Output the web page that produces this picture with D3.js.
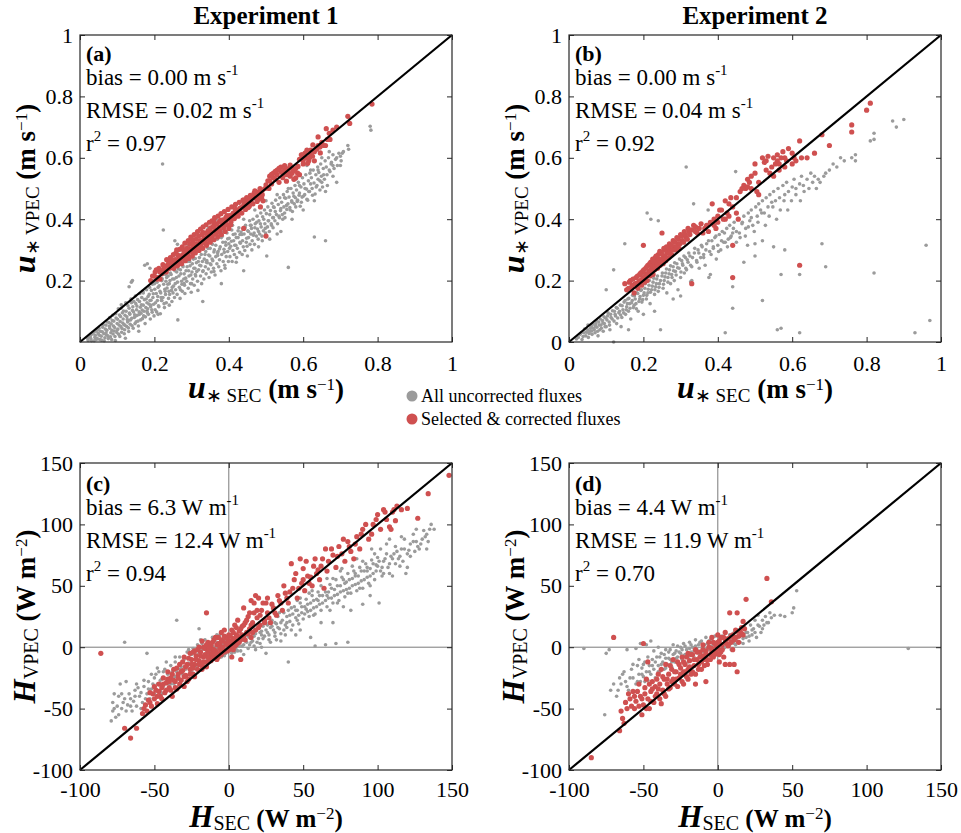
<!DOCTYPE html>
<html><head><meta charset="utf-8">
<script src="https://cdn.jsdelivr.net/npm/d3@7"></script>
<style>body{margin:0;background:#fff}</style>
</head><body>
<svg id="c" width="961" height="833"></svg>
<script>
// ---------------- DATA ----------------
const titles = ["Experiment 1", "Experiment 2"];
const panelLabels = ["(a)", "(b)", "(c)", "(d)"];
const statBias = ["0.00", "0.00", "6.3", "4.4"];
const statRmse = ["0.02", "0.04", "12.4", "11.9"];
const statR2 = ["0.97", "0.92", "0.94", "0.70"];
const legendLabels = ["All uncorrected fluxes", "Selected & corrected fluxes"];
const uTicksX = [0, .2, .4, .6, .8, 1];
const uTicksYa = [.2, .4, .6, .8, 1];
const uTicksYb = [0, .2, .4, .6, .8, 1];
const hTicks = [-100, -50, 0, 50, 100, 150];

const aGray = [[.02,.012],[.028,.02],[.031,.004],[.036,.031],[.04,.015],[.044,.008],[.047,.04],[.052,.022],[.055,.035],[.058,.006],[.061,.048],[.064,.027],[.067,.014],[.07,.055],[.072,.038],[.075,.02],[.078,.063],[.08,.045],[.083,.03],[.085,.008],[.087,.07],[.09,.052],[.092,.036],[.094,.018],[.097,.078],[.1,.06],[.102,.042],[.104,.025],[.106,.088],[.108,.067],[.11,.05],[.112,.032],[.114,.095],[.116,.075],[.118,.057],[.12,.04],[.122,.012],[.124,.1],[.126,.082],[.128,.065],[.13,.046],[.132,.11],[.134,.09],[.136,.072],[.138,.128],[.14,.053],[.142,.115],[.144,.098],[.146,.08],[.148,.06],[.15,.125],[.152,.105],[.154,.087],[.156,.068],[.158,.035],[.16,.132],[.162,.113],[.164,.094],[.166,.145],[.168,.076],[.17,.12],[.172,.1],[.174,.25],[.176,.082],[.178,.14],[.18,.128],[.182,.108],[.184,.09],[.186,.155],[.188,.135],[.19,.115],[.192,.168],[.194,.097],[.196,.145],[.198,.123],[.2,.19],[.202,.105],[.205,.158],[.208,.135],[.21,.178],[.212,.115],[.215,.165],[.218,.145],[.22,.2],[.222,.58],[.224,.365],[.226,.125],[.228,.172],[.23,.155],[.233,.21],[.236,.188],[.239,.165],[.242,.2],[.245,.22],[.248,.178],[.25,.24],[.253,.205],[.256,.19],[.26,.228],[.263,.072],[.266,.215],[.27,.235],[.273,.198],[.276,.25],[.28,.222],[.284,.208],[.288,.245],[.292,.232],[.295,.262],[.298,.218],[.302,.255],[.306,.24],[.31,.272],[.314,.23],[.318,.262],[.322,.25],[.326,.285],[.33,.132],[.334,.27],[.338,.295],[.342,.258],[.346,.283],[.35,.305],[.355,.27],[.36,.293],[.365,.315],[.37,.282],[.375,.303],[.38,.19],[.384,.325],[.388,.292],[.392,.315],[.397,.336],[.402,.305],[.407,.328],[.412,.35],[.416,.315],[.42,.34],[.425,.362],[.43,.325],[.435,.35],[.44,.232],[.444,.373],[.448,.338],[.453,.36],[.458,.38],[.462,.3],[.466,.348],[.47,.372],[.475,.39],[.48,.36],[.485,.385],[.49,.33],[.494,.4],[.498,.37],[.502,.28],[.506,.395],[.51,.415],[.515,.38],[.52,.405],[.525,.425],[.53,.352],[.535,.41],[.54,.435],[.545,.4],[.55,.42],[.555,.445],[.56,.243],[.565,.43],[.57,.455],[.575,.475],[.58,.44],[.585,.462],[.59,.485],[.595,.455],[.6,.475],[.605,.5],[.61,.465],[.615,.49],[.62,.515],[.625,.478],[.63,.342],[.635,.505],[.64,.53],[.645,.495],[.65,.52],[.655,.545],[.66,.33],[.665,.51],[.67,.56],[.675,.58],[.68,.54],[.69,.6],[.7,.575],[.705,.615],[.72,.64],[.722,.628],[.78,.703],[.782,.69]];
const aGray2 = [[.022,.005],[.025,.018],[.029,.011],[.033,.026],[.038,.004],[.041,.022],[.043,.035],[.046,.012],[.049,.028],[.051,.045],[.053,.008],[.057,.019],[.06,.033],[.063,.056],[.065,.004],[.068,.042],[.071,.023],[.073,.066],[.076,.011],[.079,.051],[.081,.078],[.082,.017],[.084,.059],[.086,.038],[.088,.087],[.089,.026],[.091,.068],[.093,.047],[.095,.005],[.096,.092],[.099,.031],[.101,.074],[.103,.108],[.105,.055],[.107,.018],[.109,.083],[.111,.121],[.113,.044],[.115,.062],[.117,.101],[.119,.027],[.121,.087],[.123,.128],[.125,.051],[.127,.073],[.129,.118],[.131,.034],[.133,.094],[.135,.058],[.137,.14],[.139,.077],[.141,.103],[.143,.045],[.145,.132],[.147,.089],[.149,.15],[.151,.066],[.153,.117],[.155,.138],[.157,.052],[.159,.098],[.161,.158],[.163,.072],[.165,.121],[.167,.104],[.169,.165],[.171,.085],[.173,.138],[.175,.06],[.177,.112],[.179,.17],[.181,.095],[.183,.148],[.185,.124],[.187,.178],[.189,.075],[.191,.136],[.193,.105],[.195,.188],[.197,.157],[.199,.085],[.201,.172],[.203,.128],[.206,.098],[.207,.195],[.209,.148],[.211,.118],[.213,.183],[.216,.092],[.217,.16],[.219,.135],[.221,.206],[.223,.145],[.225,.188],[.227,.112],[.229,.165],[.231,.198],[.232,.128],[.234,.176],[.237,.215],[.238,.142],[.24,.19],[.241,.155],[.243,.225],[.246,.168],[.247,.132],[.249,.205],[.251,.182],[.254,.145],[.255,.232],[.257,.17],[.259,.21],[.261,.155],[.262,.195],[.264,.238],[.267,.178],[.269,.142],[.271,.222],[.274,.188],[.275,.165],[.277,.245],[.279,.205],[.281,.185],[.282,.158],[.285,.232],[.287,.198],[.289,.262],[.291,.175],[.293,.215],[.296,.248],[.297,.19],[.299,.162],[.301,.228],[.303,.205],[.305,.27],[.307,.185],[.309,.24],[.311,.215],[.313,.258],[.316,.198],[.317,.168],[.319,.235],[.321,.275],[.324,.215],[.325,.248],[.327,.19],[.329,.262],[.331,.232],[.333,.205],[.336,.285],[.337,.245],[.339,.222],[.341,.265],[.344,.305],[.345,.238],[.347,.21],[.349,.28],[.352,.252],[.353,.228],[.356,.318],[.357,.265],[.359,.24],[.361,.3],[.363,.218],[.365,.278],[.368,.255],[.369,.335],[.371,.295],[.373,.245],[.375,.268],[.377,.31],[.379,.232],[.381,.285],[.383,.345],[.385,.262],[.387,.302],[.389,.25],[.391,.325],[.393,.278],[.395,.355],[.397,.295],[.399,.262],[.401,.338],[.403,.278],[.405,.312],[.408,.365],[.409,.262],[.411,.298],[.413,.33],[.415,.285],[.417,.352],[.419,.315],[.421,.275],[.423,.305],[.425,.34],[.427,.372],[.429,.292],[.431,.322],[.433,.358],[.436,.285],[.437,.33],[.439,.31],[.441,.352],[.443,.298],[.445,.38],[.447,.325],[.449,.312],[.451,.362],[.453,.34],[.456,.395],[.457,.318],[.459,.352],[.461,.37],[.463,.33],[.465,.4],[.468,.355],[.469,.318],[.471,.385],[.474,.345],[.476,.41],[.477,.368],[.479,.335],[.481,.395],[.483,.352],[.486,.42],[.487,.375],[.489,.345],[.491,.408],[.493,.362],[.496,.43],[.497,.385],[.499,.355],[.501,.418],[.504,.375],[.505,.44],[.507,.395],[.509,.36],[.512,.428],[.514,.385],[.516,.452],[.518,.405],[.519,.372],[.522,.438],[.524,.395],[.526,.462],[.528,.415],[.531,.385],[.533,.448],[.536,.405],[.537,.47],[.539,.428],[.542,.455],[.544,.415],[.547,.48],[.548,.44],[.551,.405],[.553,.468],[.556,.432],[.557,.49],[.559,.45],[.562,.472],[.564,.438],[.567,.5],[.569,.46],[.571,.425],[.573,.485],[.576,.45],[.578,.51],[.579,.47],[.582,.495],[.584,.458],[.587,.52],[.589,.478],[.592,.442],[.594,.505],[.597,.472],[.598,.535],[.602,.515],[.604,.48],[.607,.545],[.609,.498],[.612,.462],[.614,.525],[.617,.49],[.618,.55],[.622,.535],[.624,.5],[.627,.56],[.629,.518],[.632,.482],[.634,.545],[.637,.51],[.639,.57],[.642,.552],[.645,.525],[.647,.58],[.649,.54],[.652,.505],[.654,.565],[.657,.53],[.659,.59],[.662,.57],[.664,.545],[.668,.6],[.672,.555],[.676,.585],[.68,.61],[.683,.565],[.687,.595],[.692,.575],[.696,.615],[.702,.59],[.708,.62],[.132,.18],[.138,.195],[.141,.2],[.181,.255],[.188,.24],[.255,.33],[.262,.318],[.285,.32],[.29,.31],[.31,.35],[.33,.36],[.345,.37],[.366,.4]];
const aGray3 = [[.36,.23],[.39,.24],[.42,.26],[.45,.28],[.48,.31],[.51,.335],[.54,.36],[.57,.4],[.6,.43],[.63,.46],[.66,.49],[.69,.52],[.41,.38],[.47,.43],[.53,.48],[.58,.53],[.62,.56],[.35,.255],[.38,.34],[.44,.4],[.5,.46],[.56,.5],[.61,.575],[.65,.6],[.67,.62],[.7,.605],[.68,.575],[.64,.56],[.59,.51],[.55,.47],[.52,.44],[.46,.38],[.43,.35],[.4,.32],[.37,.29],[.34,.26],[.31,.22],[.28,.19],[.25,.16],[.22,.135],[.19,.12],[.16,.09],[.13,.07],[.1,.04],[.07,.03],[.3,.19],[.33,.23],[.27,.17],[.24,.12],[.21,.09],[.18,.1],[.15,.085],[.12,.055],[.29,.28],[.32,.3],[.35,.33],[.38,.36],[.26,.25],[.23,.22],[.2,.2],[.17,.16],[.14,.13],[.11,.11],[.08,.08]];

const aRed = [[.19,.2],[.2,.215],[.21,.21],[.215,.228],[.22,.222],[.225,.238],[.23,.232],[.235,.25],[.24,.24],[.245,.258],[.25,.252],[.252,.24],[.256,.268],[.26,.26],[.262,.248],[.266,.275],[.27,.268],[.273,.255],[.276,.284],[.28,.276],[.283,.265],[.286,.293],[.29,.285],[.293,.272],[.296,.302],[.3,.295],[.302,.28],[.305,.312],[.308,.302],[.31,.29],[.314,.32],[.317,.31],[.32,.298],[.323,.33],[.326,.318],[.33,.305],[.333,.338],[.336,.327],[.34,.315],[.343,.348],[.346,.336],[.35,.325],[.353,.358],[.356,.345],[.36,.333],[.363,.366],[.366,.353],[.37,.342],[.373,.375],[.376,.362],[.38,.35],[.383,.385],[.386,.372],[.39,.36],[.393,.395],[.396,.382],[.4,.37],[.403,.405],[.406,.392],[.41,.415],[.415,.402],[.42,.425],[.425,.41],[.43,.435],[.435,.42],[.44,.445],[.44,.37],[.445,.432],[.45,.455],[.455,.442],[.46,.465],[.465,.45],[.47,.475],[.48,.465],[.485,.44],[.49,.48],[.5,.345],[.505,.525],[.51,.54],[.515,.515],[.52,.55],[.525,.53],[.53,.545],[.535,.52],[.54,.555],[.545,.535],[.55,.56],[.555,.545],[.56,.565],[.565,.54],[.57,.55],[.575,.53],[.58,.535],[.59,.595],[.595,.61],[.6,.58],[.605,.615],[.61,.6],[.615,.59],[.62,.625],[.625,.605],[.63,.59],[.64,.668],[.645,.635],[.65,.65],[.66,.64],[.662,.695],[.67,.68],[.68,.69],[.69,.7],[.72,.735],[.725,.712],[.785,.775]];
const aRed2 = [[.195,.215],[.202,.228],[.207,.205],[.212,.24],[.218,.232],[.223,.252],[.228,.245],[.233,.268],[.238,.255],[.243,.275],[.248,.268],[.251,.285],[.255,.255],[.258,.29],[.263,.283],[.268,.302],[.271,.28],[.275,.31],[.279,.298],[.282,.322],[.287,.305],[.291,.33],[.295,.318],[.298,.342],[.303,.325],[.307,.35],[.312,.335],[.316,.36],[.319,.345],[.324,.368],[.328,.35],[.331,.375],[.335,.355],[.339,.382],[.344,.362],[.348,.39],[.351,.372],[.355,.395],[.359,.378],[.362,.405],[.367,.385],[.371,.41],[.375,.392],[.379,.418],[.384,.398],[.388,.425],[.392,.405],[.398,.432],[.402,.412],[.408,.44],[.412,.42],[.418,.448],[.423,.43],[.428,.455],[.433,.438],[.438,.462],[.443,.452],[.448,.47],[.453,.46],[.458,.478],[.463,.47],[.468,.485],[.473,.468],[.478,.48],[.482,.49],[.488,.47],[.492,.46],[.497,.5],[.51,.525],[.52,.535],[.53,.56],[.54,.57],[.55,.575],[.56,.55],[.57,.565],[.58,.565],[.585,.55],[.59,.545],[.6,.6],[.61,.625],[.62,.61],[.63,.62],[.64,.64],[.655,.64],[.665,.66]];
const aRed3 = [[.205,.235],[.215,.205],[.232,.228],[.247,.242],[.26,.3],[.27,.256],[.285,.275],[.3,.336],[.305,.294],[.32,.308],[.33,.356],[.338,.322],[.352,.338],[.36,.392],[.372,.358],[.387,.378],[.395,.412],[.405,.382],[.418,.432],[.43,.424],[.44,.462],[.452,.438],[.462,.452],[.47,.492],[.476,.458],[.49,.494],[.5,.512],[.508,.5],[.515,.546],[.525,.556],[.535,.566],[.545,.548],[.555,.524],[.565,.576],[.575,.558],[.586,.572],[.6,.592],[.612,.582],[.626,.642],[.636,.628],[.646,.616],[.672,.66],[.242,.262],[.289,.296],[.341,.352],[.378,.396],[.422,.415],[.457,.47],[.484,.5],[.598,.61],[.617,.6]];

const bGray = [[.02,.01],[.03,.025],[.035,.008],[.04,.03],[.045,.02],[.05,.04],[.052,.015],[.056,.035],[.06,.05],[.062,.025],[.066,.045],[.07,.03],[.072,.06],[.075,.048],[.078,.02],[.08,.065],[.083,.04],[.086,.055],[.09,.07],[.092,.035],[.095,.06],[.098,.078],[.1,.05],[.1,.17],[.104,.085],[.108,.065],[.11,.04],[.112,.09],[.116,.075],[.12,.0],[.12,.235],[.122,.1],[.125,.085],[.128,.06],[.13,.11],[.134,.095],[.138,.12],[.14,.05],[.142,.08],[.145,.105],[.148,.13],[.15,.32],[.152,.09],[.155,.115],[.158,.14],[.16,.1],[.163,.125],[.166,.075],[.17,.135],[.173,.112],[.176,.15],[.18,.125],[.183,.16],[.186,.1],[.19,.14],[.193,.168],[.196,.13],[.2,.152],[.2,.22],[.204,.175],[.208,.14],[.21,.42],[.212,.16],[.215,.185],[.218,.125],[.22,.4],[.222,.17],[.226,.195],[.23,.155],[.233,.18],[.236,.205],[.24,.395],[.24,.165],[.243,.19],[.246,.04],[.25,.215],[.253,.175],[.256,.2],[.26,.225],[.263,.16],[.266,.21],[.27,.235],[.273,.19],[.276,.22],[.28,.245],[.283,.2],[.286,.23],[.29,.255],[.293,.17],[.296,.24],[.3,.21],[.303,.265],[.306,.25],[.31,.225],[.313,.275],[.315,.57],[.316,.235],[.32,.26],[.325,.28],[.33,.2],[.33,.245],[.335,.45],[.337,.29],[.34,.37],[.343,.265],[.347,.3],[.35,.24],[.354,.275],[.358,.31],[.362,.285],[.366,.25],[.37,.32],[.374,.43],[.378,.295],[.38,.22],[.384,.33],[.388,.305],[.392,.34],[.396,.27],[.4,.315],[.404,.35],[.408,.3],[.412,.36],[.416,.325],[.42,.325],[.42,.03],[.424,.37],[.428,.335],[.432,.38],[.436,.345],[.44,.11],[.44,.355],[.444,.39],[.448,.555],[.45,.36],[.455,.4],[.46,.34],[.465,.385],[.47,.41],[.475,.37],[.48,.315],[.482,.42],[.486,.395],[.49,.43],[.494,.38],[.5,.32],[.502,.44],[.506,.41],[.51,.45],[.515,.43],[.52,.135],[.52,.46],[.525,.42],[.53,.47],[.535,.44],[.54,.48],[.545,.455],[.55,.31],[.55,.49],[.555,.46],[.56,.04],[.562,.5],[.566,.47],[.57,.045],[.57,.22],[.575,.51],[.58,.48],[.585,.52],[.59,.49],[.6,.505],[.605,.53],[.61,.5],[.62,.22],[.62,.03],[.62,.515],[.625,.54],[.63,.51],[.64,.53],[.65,.55],[.66,.54],[.67,.53],[.68,.32],[.69,.245],[.69,.55],[.7,.56],[.71,.58],[.72,.57],[.73,.6],[.74,.59],[.76,.6],[.77,.59],[.77,.61],[.81,.655],[.82,.66],[.82,.68],[.82,.225],[.87,.72],[.88,.7],[.9,.725],[.93,.03],[.96,.315],[.97,.07]];
const bGray2 = [[.025,.015],[.033,.03],[.038,.018],[.042,.042],[.047,.032],[.051,.055],[.054,.028],[.058,.045],[.061,.036],[.064,.058],[.068,.04],[.071,.052],[.074,.07],[.077,.035],[.081,.055],[.084,.075],[.087,.045],[.091,.062],[.094,.082],[.097,.05],[.102,.072],[.105,.095],[.109,.055],[.113,.08],[.117,.102],[.121,.068],[.124,.09],[.127,.112],[.131,.078],[.136,.1],[.139,.088],[.143,.118],[.147,.095],[.151,.135],[.154,.105],[.157,.125],[.161,.142],[.164,.11],[.168,.128],[.171,.152],[.175,.12],[.178,.14],[.181,.108],[.185,.158],[.188,.132],[.191,.148],[.195,.17],[.198,.138],[.202,.16],[.205,.19],[.209,.152],[.213,.172],[.216,.2],[.219,.162],[.224,.182],[.228,.208],[.231,.17],[.235,.19],[.238,.215],[.242,.178],[.246,.2],[.251,.225],[.254,.188],[.258,.212],[.262,.238],[.266,.195],[.269,.222],[.273,.248],[.277,.21],[.281,.232],[.284,.258],[.288,.218],[.292,.242],[.297,.27],[.301,.228],[.305,.255],[.309,.28],[.314,.24],[.318,.268],[.322,.29],[.327,.25],[.332,.275],[.338,.305],[.344,.26],[.349,.29],[.356,.315],[.362,.275],[.368,.3],[.375,.33],[.382,.285],[.388,.31],[.395,.345],[.402,.295],[.41,.33],[.418,.355],[.426,.31],[.434,.34],[.442,.37],[.45,.325],[.458,.355],[.466,.39],[.474,.345],[.482,.375],[.49,.405],[.498,.36],[.508,.39],[.518,.42],[.528,.38],[.538,.41],[.548,.44],[.558,.4],[.568,.43],[.578,.46],[.588,.43],[.598,.46],[.61,.48],[.622,.46],[.632,.49],[.645,.5],[.655,.52],[.665,.5],[.675,.52],[.685,.54],[.16,.04],[.2,.09],[.23,.1],[.28,.14],[.3,.15],[.327,.196],[.376,.21],[.44,.18],[.47,.26],[.5,.28],[.52,.33],[.58,.3]];

const bRed = [[.15,.19],[.16,.175],[.165,.2],[.17,.185],[.175,.16],[.18,.21],[.182,.19],[.185,.175],[.19,.22],[.192,.2],[.195,.185],[.198,.23],[.2,.315],[.2,.21],[.203,.195],[.206,.24],[.208,.222],[.21,.2],[.212,.25],[.215,.23],[.218,.215],[.22,.26],[.222,.24],[.225,.27],[.226,.22],[.228,.25],[.23,.235],[.232,.275],[.235,.26],[.238,.24],[.24,.285],[.242,.265],[.245,.25],[.248,.29],[.25,.355],[.25,.27],[.253,.255],[.256,.3],[.258,.28],[.26,.265],[.262,.31],[.265,.29],[.268,.275],[.27,.32],[.273,.3],[.276,.285],[.28,.33],[.283,.31],[.286,.3],[.29,.34],[.293,.32],[.296,.305],[.3,.35],[.305,.33],[.31,.36],[.315,.34],[.32,.37],[.325,.35],[.33,.19],[.33,.365],[.335,.38],[.34,.36],[.35,.37],[.36,.355],[.37,.38],[.375,.36],[.38,.39],[.385,.45],[.39,.4],[.395,.37],[.4,.41],[.41,.43],[.415,.4],[.42,.46],[.425,.42],[.43,.41],[.435,.47],[.44,.44],[.44,.315],[.44,.21],[.45,.42],[.455,.4],[.46,.49],[.47,.51],[.475,.5],[.48,.53],[.485,.52],[.49,.54],[.49,.5],[.5,.55],[.5,.58],[.505,.49],[.51,.48],[.52,.6],[.525,.585],[.53,.56],[.535,.605],[.54,.55],[.545,.57],[.55,.54],[.555,.58],[.56,.59],[.565,.56],[.57,.6],[.575,.62],[.58,.57],[.585,.59],[.59,.63],[.6,.58],[.605,.6],[.61,.59],[.62,.655],[.62,.25],[.625,.6],[.64,.6],[.66,.615],[.68,.675],[.7,.64],[.76,.707],[.76,.684],[.8,.755],[.81,.778]];
const bRed2 = [[.155,.17],[.162,.195],[.168,.178],[.172,.205],[.178,.19],[.184,.215],[.188,.198],[.193,.225],[.197,.205],[.201,.235],[.205,.215],[.209,.245],[.213,.222],[.217,.255],[.221,.232],[.224,.25],[.227,.262],[.231,.245],[.234,.28],[.237,.252],[.241,.27],[.244,.295],[.247,.26],[.251,.285],[.255,.305],[.259,.275],[.263,.295],[.267,.31],[.271,.29],[.275,.315],[.279,.3],[.284,.325],[.289,.31],[.294,.335],[.298,.32],[.303,.345],[.308,.325],[.313,.35],[.318,.335],[.323,.36],[.34,.375],[.345,.355],[.355,.385],[.365,.37],[.39,.38],[.4,.39],[.405,.43],[.42,.4],[.43,.45],[.45,.47],[.465,.5],[.48,.505],[.51,.52],[.53,.59],[.55,.6],[.56,.61],[.565,.58],[.58,.6],[.6,.615]];

const cGray = [[-78,-52],[-78,-45],[-76,-57],[-75,-48],[-74,-40],[-73,-30],[-72,-50],[-70,4],[-70,-42],[-68,-47],[-67,-38],[-65,-52],[-64,-44],[-63,-35],[-62,-48],[-60,-40],[-58,-45],[-57,-32],[-55,-5],[-55,-38],[-54,-28],[-53,-42],[-52,-34],[-50,-25],[-50,-38],[-48,-30],[-47,-20],[-46,-36],[-45,-26],[-44,-32],[-43,-18],[-42,-28],[-41,-22],[-40,-34],[-39,-15],[-38,-25],[-37,-30],[-36,-12],[-35,22],[-35,-20],[-34,-26],[-33,-8],[-32,-16],[-31,-22],[-30,-10],[-29,-18],[-28,-4],[-27,-13],[-26,-20],[-25,-6],[-24,-1],[-23,-10],[-22,-16],[-21,2],[-20,15],[-20,-5],[-19,-12],[-18,3],[-17,-8],[-16,6],[-15,-3],[-14,-10],[-13,2],[-12,-5],[-11,8],[-10,0],[-9,-6],[-8,4],[-7,-2],[-6,10],[-5,-4],[-4,2],[-3,-7],[-2,5],[-1,-2],[0,2],[1,-3],[2,6],[3,0],[4,-4],[5,4],[6,9],[7,1],[8,-3],[9,6],[10,2],[11,10],[12,4],[13,-1],[14,8],[15,13],[16,5],[17,1],[18,11],[19,15],[20,7],[21,3],[22,13],[23,17],[24,9],[25,-5],[25,20],[26,12],[27,6],[28,16],[29,22],[30,14],[31,9],[32,19],[33,25],[34,15],[35,11],[36,22],[37,28],[38,10],[38,18],[39,25],[40,-12],[40,30],[41,21],[42,14],[43,27],[44,33],[45,10],[45,24],[46,30],[47,19],[48,36],[49,28],[50,23],[51,33],[52,39],[53,29],[54,25],[55,8],[55,36],[56,42],[57,32],[58,1],[58,27],[59,39],[60,45],[61,35],[62,30],[63,42],[64,48],[65,2],[65,38],[66,33],[67,45],[68,51],[69,40],[70,36],[71,47],[72,3],[72,55],[73,43],[74,38],[75,50],[76,57],[77,33],[77,46],[78,41],[79,53],[80,4],[80,60],[81,48],[82,44],[83,56],[84,62],[85,51],[86,46],[87,58],[88,65],[89,54],[90,48],[91,62],[92,68],[93,57],[94,52],[95,64],[96,71],[97,60],[98,55],[99,67],[100,73],[101,36],[102,62],[103,58],[104,70],[106,76],[107,65],[108,60],[110,72],[112,68],[113,78],[115,74],[117,70],[118,80],[119,60],[120,76],[122,84],[124,86],[125,78],[127,82],[130,88],[133,92],[135,96],[136,100]];
const cGray2 = [[-77,-38],[-74,-55],[-71,-45],[-69,-52],[-66,-42],[-63,-40],[-61,-33],[-59,-37],[-56,-42],[-54,-34],[-51,-30],[-49,-22],[-46,-27],[-44,-20],[-41,-30],[-38,-20],[-36,-24],[-33,-18],[-31,-12],[-28,-16],[-26,-9],[-23,-5],[-21,-11],[-18,-2],[-16,-7],[-13,-4],[-11,1],[-8,-1],[-6,3],[-3,0],[-1,5],[1,1],[3,4],[5,-2],[7,6],[9,1],[11,5],[13,9],[15,4],[17,9],[19,4],[21,12],[23,7],[25,14],[27,10],[29,17],[31,12],[33,16],[35,20],[37,14],[39,20],[41,26],[43,18],[45,30],[47,26],[49,33],[51,27],[53,35],[55,30],[57,38],[59,33],[61,42],[63,36],[65,45],[67,40],[69,48],[71,42],[73,50],[75,45],[77,55],[79,47],[81,55],[83,50],[85,60],[87,52],[89,62],[91,55],[93,65],[95,58],[97,68],[99,62],[101,70],[103,65],[105,72],[108,68],[111,76],[114,72],[116,80],[121,79],[126,86],[129,84],[132,90]];
const cGray3 = [[22,10],[26,18],[31,20],[34,28],[39,16],[42,32],[46,22],[48,40],[52,31],[54,44],[57,26],[60,38],[62,50],[66,42],[68,30],[70,56],[73,36],[75,62],[78,52],[80,44],[83,66],[85,58],[88,48],[90,70],[93,62],[95,50],[98,76],[100,66],[102,80],[104,60],[106,84],[109,74],[112,82],[115,66],[118,88],[122,74],[124,92],[128,80],[131,95],[134,86],[35,5],[48,14],[62,20],[82,30],[95,42],[110,58],[70,20],[90,35],[120,65],[133,80],[138,96],[126,96],[116,90],[108,88],[96,80],[86,72],[76,64],[66,56],[56,46],[46,38],[36,30],[-79,-60],[-77,-50],[-72,-38],[-69,-28],[-66,-48],[-62,-30],[-59,-50],[-57,-27],[-52,-22],[-48,-17],[-45,-38],[-42,-12],[-39,-30],[-36,-8],[-34,-32],[-30,-16],[-27,-2],[-25,-20],[-22,-8],[-19,6],[-17,-14],[-14,-6],[-10,-10],[-8,10],[-5,-8],[-2,-5],[2,-5],[6,-3],[10,-6],[14,2],[18,-2],[22,0],[28,4],[32,6]];

const cRed = [[-86,-5],[-70,-66],[-66,-74],[-62,-66],[-58,-54],[-56,-47],[-55,-52],[-54,-43],[-53,-37],[-52,-48],[-50,-42],[-49,-35],[-48,-46],[-47,-30],[-46,-40],[-45,-33],[-44,-25],[-43,-37],[-42,-29],[-41,-20],[-40,-33],[-39,-25],[-38,-40],[-37,-18],[-36,-28],[-35,-34],[-34,-22],[-33,-14],[-32,-27],[-31,-19],[-30,-8],[-30,-32],[-29,-23],[-28,-14],[-27,-26],[-26,-5],[-26,-18],[-25,-10],[-24,-22],[-23,-3],[-23,-14],[-22,-7],[-21,-18],[-20,0],[-20,-11],[-19,-4],[-18,-15],[-18,5],[-17,-8],[-16,-1],[-15,28],[-15,-12],[-14,-4],[-14,4],[-13,-9],[-12,1],[-12,-6],[-11,-2],[-10,6],[-10,-8],[-9,-3],[-8,2],[-8,-10],[-7,8],[-6,-5],[-6,3],[-5,12],[-5,-1],[-4,5],[-3,-3],[-3,14],[-2,8],[-1,2],[0,10],[0,-2],[1,5],[2,14],[2,-8],[3,7],[4,18],[4,1],[5,10],[6,22],[6,4],[7,13],[8,-10],[8,6],[9,17],[10,32],[10,9],[11,20],[12,12],[13,25],[14,15],[15,38],[15,8],[16,20],[17,28],[18,42],[18,14],[19,24],[20,40],[21,18],[22,30],[24,22],[25,36],[26,28],[28,20],[30,32],[32,26],[34,38],[36,30],[38,44],[40,36],[42,68],[43,48],[45,60],[46,40],[48,72],[49,52],[50,55],[51,46],[52,70],[53,58],[55,57],[56,50],[58,72],[60,63],[61,55],[62,66],[64,48],[65,80],[67,70],[70,75],[72,65],[74,82],[76,76],[78,70],[80,86],[82,78],[84,72],[86,90],[88,80],[90,96],[94,88],[97,100],[100,108],[102,96],[104,112],[106,104],[108,98],[110,110],[112,103],[113,115],[116,112],[120,113],[127,105],[134,125],[148,140]];
const cRed2 = [[-57,-50],[-53,-45],[-51,-38],[-50,-32],[-48,-40],[-47,-36],[-45,-42],[-44,-30],[-42,-35],[-41,-26],[-40,-28],[-39,-35],[-38,-22],[-37,-27],[-36,-33],[-35,-17],[-34,-25],[-33,-30],[-32,-20],[-31,-12],[-30,-24],[-29,-16],[-28,-28],[-27,-9],[-26,-22],[-25,-14],[-24,-4],[-24,-17],[-23,-24],[-22,-10],[-21,-2],[-20,-14],[-19,-7],[-18,-18],[-17,0],[-17,-12],[-16,-6],[-15,2],[-15,-16],[-14,-8],[-13,-1],[-12,-11],[-11,4],[-11,-5],[-10,-2],[-9,8],[-9,-9],[-8,-5],[-7,3],[-7,-8],[-6,-1],[-5,6],[-5,-6],[-4,0],[-3,9],[-3,-4],[-2,3],[-1,7],[-1,-3],[0,4],[1,9],[1,0],[2,3],[3,12],[3,-2],[4,6],[5,16],[5,2],[6,9],[7,4],[8,15],[9,10],[10,18],[11,6],[12,22],[13,11],[14,28],[15,18],[16,12],[17,36],[19,30],[20,16],[21,26],[23,36],[24,20],[26,40],[27,24],[29,35],[31,28],[33,42],[35,36],[37,50],[39,40],[41,45],[44,55],[47,48],[50,64],[54,52],[57,66],[59,60],[63,72],[66,62],[69,80],[73,74],[77,88],[81,82],[85,84],[89,92],[92,100],[96,92],[99,104],[105,110],[109,96],[111,112]];

const dGray = [[-90,-1],[-76,-55],[-75,-5],[-73,-2],[-72,-35],[-68,-40],[-66,-25],[-65,-30],[-64,-22],[-62,-28],[-61,-2],[-60,-35],[-58,-18],[-57,-25],[-56,-40],[-55,-30],[-55,-1],[-54,-15],[-53,-22],[-52,3],[-52,-28],[-51,-17],[-50,-24],[-49,-12],[-48,2],[-48,-20],[-47,-27],[-46,-15],[-45,5],[-45,-22],[-44,-10],[-43,-18],[-42,-25],[-41,-8],[-40,0],[-40,-15],[-39,-20],[-38,-5],[-37,-12],[-36,-18],[-35,-2],[-35,-9],[-34,-14],[-33,-4],[-32,-10],[-31,-16],[-30,-6],[-30,2],[-29,-12],[-28,-3],[-27,-8],[-26,-14],[-25,0],[-25,-5],[-24,-10],[-23,3],[-22,-6],[-21,-2],[-20,-12],[-19,4],[-18,-4],[-17,0],[-16,-8],[-15,6],[-14,-2],[-13,2],[-12,-6],[-11,5],[-10,0],[-9,-4],[-8,8],[-7,3],[-6,-2],[-5,6],[-4,1],[-3,-3],[-2,9],[-1,4],[0,0],[1,6],[2,-2],[3,9],[4,3],[5,0],[6,7],[7,2],[8,10],[9,-2],[10,5],[11,12],[12,2],[13,8],[14,14],[15,4],[16,10],[17,3],[18,16],[19,8],[20,12],[21,5],[22,18],[23,10],[24,15],[25,22],[26,8],[27,26],[28,17],[29,12],[30,22],[31,18],[32,25],[34,20],[35,28],[36,24],[38,26],[42,26],[45,25],[50,28],[51,32],[53,46],[128,-1]];
const dGray2 = [[-70,-30],[-67,-35],[-63,-20],[-61,-32],[-59,-25],[-57,-14],[-54,-28],[-53,-10],[-51,-22],[-50,-14],[-49,-28],[-47,-8],[-46,-20],[-44,-15],[-43,-3],[-42,-12],[-40,-20],[-39,-8],[-38,-14],[-36,-6],[-35,-17],[-33,-9],[-32,-2],[-31,-12],[-29,-5],[-28,-9],[-27,1],[-26,-4],[-24,-2],[-23,-7],[-22,1],[-20,-8],[-19,-1],[-18,2],[-16,-3],[-15,1],[-13,-5],[-12,4],[-10,-3],[-9,2],[-7,-1],[-6,5],[-4,-2],[-3,3],[-1,-1],[1,2],[2,7],[4,-1],[6,4],[8,2],[9,7],[11,3],[13,5],[15,9],[17,7],[19,12],[21,9],[23,14],[25,12],[27,18],[30,15],[33,20]];

const dRed = [[-85,-90],[-70,8],[-66,-68],[-65,-52],[-63,-62],[-62,-45],[-60,-38],[-59,-42],[-57,-36],[-56,-50],[-55,-44],[-53,-30],[-52,-40],[-51,-55],[-50,3],[-50,-47],[-49,-33],[-48,-26],[-47,-12],[-47,-42],[-46,-50],[-45,-36],[-44,-28],[-43,-45],[-42,-32],[-41,-38],[-40,-22],[-39,-30],[-38,-46],[-38,-18],[-37,-35],[-36,-26],[-35,-40],[-35,-14],[-34,-30],[-33,-22],[-32,-33],[-31,-18],[-30,-26],[-30,-10],[-29,-30],[-28,-20],[-27,-12],[-26,-25],[-25,-17],[-24,-28],[-24,-8],[-23,-20],[-22,-14],[-21,-24],[-20,-5],[-20,-18],[-19,-11],[-18,-22],[-17,-6],[-16,-15],[-15,-30],[-15,-2],[-14,-10],[-13,-18],[-12,-4],[-11,-12],[-10,2],[-10,-7],[-9,-15],[-8,-28],[-8,-3],[-7,-10],[-6,4],[-5,-6],[-4,-1],[-4,8],[-3,-8],[-2,3],[-1,-4],[0,10],[0,-1],[1,-12],[1,5],[2,-4],[3,2],[4,-8],[4,8],[5,12],[5,-14],[6,3],[7,7],[8,28],[8,-14],[9,4],[10,10],[11,-14],[11,6],[12,14],[13,28],[13,-20],[14,9],[15,13],[16,16],[17,10],[17,21],[19,39],[33,56],[36,37]];
const dRed2 = [[-64,-58],[-61,-50],[-58,-48],[-56,-40],[-54,-36],[-53,-48],[-51,-42],[-49,-38],[-48,-50],[-46,-30],[-45,-44],[-44,-34],[-42,-40],[-41,-26],[-40,-34],[-39,-42],[-37,-24],[-36,-38],[-34,-26],[-33,-34],[-32,-15],[-31,-28],[-29,-20],[-28,-26],[-27,-32],[-26,-14],[-25,-22],[-23,-30],[-23,-12],[-22,-20],[-21,-8],[-20,-26],[-19,-16],[-18,-6],[-17,-20],[-16,-10],[-15,-22],[-14,-4],[-13,-14],[-12,-8],[-11,-18],[-10,-2],[-9,-10],[-8,-6],[-7,-14],[-6,0],[-5,-10],[-4,-4],[-3,4],[-2,-6],[-1,1],[0,4],[1,-6],[2,8],[3,-2],[5,6],[7,1],[9,9],[10,-2],[12,8],[14,4],[16,11],[18,15],[13,13]];

// ---------------- DRAWING ----------------
const SERIF = '"Liberation Serif","Times New Roman",Times,serif';
const GRAY = "#9b9b9b", RED = "#cf5050", AX = "#262626";
const svg = d3.select("#c").style("font-family", SERIF);
const W = 372, H = 307;

const panels = [
  {left: 80, top: 35, dom: [0, 1], xt: uTicksX, yt: uTicksYa, gray: aGray.concat(aGray2, aGray3), red: aRed.concat(aRed2, aRed3), kind: "u"},
  {left: 569, top: 35, dom: [0, 1], xt: uTicksX, yt: uTicksYb, gray: bGray.concat(bGray2), red: bRed.concat(bRed2), kind: "u"},
  {left: 80, top: 463, dom: [-100, 150], xt: hTicks, yt: hTicks, gray: cGray.concat(cGray2, cGray3), red: cRed.concat(cRed2), kind: "h"},
  {left: 569, top: 463, dom: [-100, 150], xt: hTicks, yt: hTicks, gray: dGray.concat(dGray2), red: dRed.concat(dRed2), kind: "h"}
];

const fmtU = d => d === 0 ? "0" : d === 1 ? "1" : d3.format(".1f")(d);
const fmtH = d => String(d);

panels.forEach((p, i) => {
  const x = d3.scaleLinear().domain(p.dom).range([p.left, p.left + W]);
  const y = d3.scaleLinear().domain(p.dom).range([p.top + H, p.top]);
  const g = svg.append("g");
  const fmt = p.kind === "u" ? fmtU : fmtH;
  const unitTxt = p.kind === "u" ? "m s" : "W m";

  if (p.kind === "h") {
    g.append("line").attr("x1", x(0)).attr("x2", x(0)).attr("y1", p.top).attr("y2", p.top + H)
      .attr("stroke", "#7a7a7a").attr("stroke-width", 1);
    g.append("line").attr("x1", p.left).attr("x2", p.left + W).attr("y1", y(0)).attr("y2", y(0))
      .attr("stroke", "#7a7a7a").attr("stroke-width", 1);
  }

  g.append("g").selectAll("circle").data(p.gray).join("circle")
    .attr("cx", d => x(d[0])).attr("cy", d => y(d[1])).attr("r", 1.8).attr("fill", GRAY);
  g.append("g").selectAll("circle").data(p.red).join("circle")
    .attr("cx", d => x(d[0])).attr("cy", d => y(d[1])).attr("r", 2.6).attr("fill", RED);

  g.append("line").attr("x1", x(p.dom[0])).attr("y1", y(p.dom[0]))
    .attr("x2", x(p.dom[1])).attr("y2", y(p.dom[1]))
    .attr("stroke", "#000").attr("stroke-width", 2.2);

  const styleAxis = sel => {
    sel.select(".domain").remove();
    sel.selectAll(".tick line").attr("stroke", AX);
    sel.selectAll("text").attr("fill", "#000").style("font-size", "22px").style("font-family", SERIF);
  };
  g.append("g").attr("transform", `translate(0,${p.top + H})`)
    .call(d3.axisBottom(x).tickValues(p.xt).tickFormat(fmt).tickSizeInner(-5).tickSizeOuter(0).tickPadding(p.kind === "u" ? 13 : 11))
    .call(styleAxis);
  g.append("g").attr("transform", `translate(0,${p.top})`)
    .call(d3.axisTop(x).tickValues(p.xt).tickFormat("").tickSizeInner(-5).tickSizeOuter(0))
    .call(styleAxis);
  g.append("g").attr("transform", `translate(${p.left},0)`)
    .call(d3.axisLeft(y).tickValues(p.yt).tickFormat(fmt).tickSizeInner(-5).tickSizeOuter(0).tickPadding(7))
    .call(styleAxis);
  g.append("g").attr("transform", `translate(${p.left + W},0)`)
    .call(d3.axisRight(y).tickValues(p.yt).tickFormat("").tickSizeInner(-5).tickSizeOuter(0))
    .call(styleAxis);

  g.append("rect").attr("x", p.left).attr("y", p.top).attr("width", W).attr("height", H)
    .attr("fill", "none").attr("stroke", AX).attr("stroke-width", 1.2);

  // annotations
  const tx = p.left + 6;
  const base = p.kind === "u" ? p.top : p.top + 2;
  g.append("text").attr("x", tx).attr("y", base + 26).text(panelLabels[i])
    .style("font-size", "22px").style("font-weight", "bold");
  const t1 = g.append("text").attr("x", tx).attr("y", base + 50).style("font-size", "23px");
  t1.append("tspan").text(`bias = ${statBias[i]} ${unitTxt}`);
  t1.append("tspan").text("-1").attr("dy", -10).style("font-size", "15px");
  const t2 = g.append("text").attr("x", tx).attr("y", base + 83).style("font-size", "23px");
  t2.append("tspan").text(`RMSE = ${statRmse[i]} ${unitTxt}`);
  t2.append("tspan").text("-1").attr("dy", -10).style("font-size", "15px");
  const t3 = g.append("text").attr("x", tx).attr("y", base + 116).style("font-size", "23px");
  t3.append("tspan").text("r");
  t3.append("tspan").text("2").attr("dy", -10).style("font-size", "15px");
  t3.append("tspan").text(` = ${statR2[i]}`).attr("dy", 10);

  // axis labels
  const cx = p.left + W / 2;
  const xl = g.append("text").attr("x", cx).attr("y", p.top + H + (p.kind === "u" ? 56 : 57))
    .attr("text-anchor", "middle").style("font-weight", "bold").style("font-size", "27px");
  const yl = g.append("text").attr("transform", `translate(${p.left - 45},${p.top + H / 2}) rotate(-90)`)
    .attr("text-anchor", "middle").style("font-weight", "bold").style("font-size", "27px");
  const fill = (t, sub, mainSize) => {
    if (p.kind === "u") {
      t.append("tspan").text("u").style("font-style", "italic").style("font-size", "32px");
      t.append("tspan").text("\u2217").attr("dy", 4).style("font-size", "19px").style("font-weight", "normal");
      t.append("tspan").text(" " + sub).style("font-size", "19px").style("font-weight", "normal");
    } else {
      t.append("tspan").text("H").style("font-style", "italic").style("font-size", "31px");
      t.append("tspan").text(sub).attr("dy", 3).style("font-size", "20px").style("font-weight", "normal");
    }
    t.append("tspan").text(` (${unitTxt}`).attr("dy", p.kind === "u" ? -4 : -3).style("font-size", mainSize);
    t.append("tspan").text(p.kind === "u" ? "\u22121" : "\u22122").attr("dy", -8).style("font-size", "17px").style("font-weight", "normal");
    t.append("tspan").text(")").attr("dy", 8).style("font-size", mainSize);
  };
  fill(xl, "SEC", p.kind === "u" ? "27px" : "25px");
  fill(yl, "VPEC", "27px");

  if (i < 2) {
    svg.append("text").attr("x", cx).attr("y", 24).attr("text-anchor", "middle")
      .style("font-weight", "bold").style("font-size", "25px").text(titles[i]);
  }
});

// legend
const leg = svg.append("g");
[GRAY, RED].forEach((c, k) => {
  leg.append("circle").attr("cx", 412).attr("cy", 396 + k * 23).attr("r", 5.5).attr("fill", c);
  leg.append("text").attr("x", 421).attr("y", 402 + k * 23).style("font-size", "18px").text(legendLabels[k]);
});
</script>
</body></html>
